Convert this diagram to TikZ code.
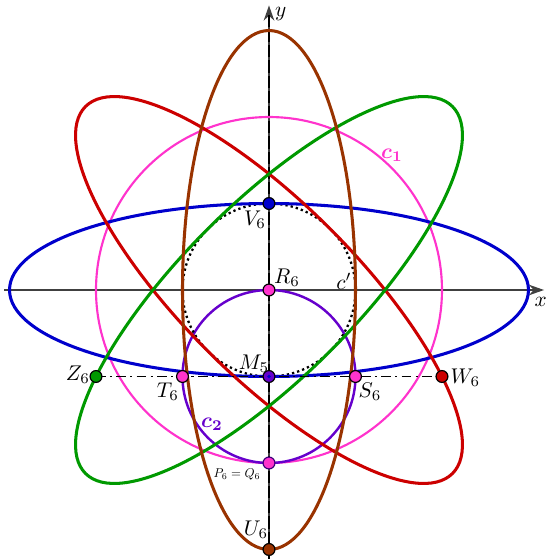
\documentclass[tikz,border=0pt]{standalone}
\usepackage{amsmath}
\usepackage{bm}
\usetikzlibrary{arrows.meta}
\definecolor{cred}{RGB}{204,0,0}
\definecolor{cgreen}{RGB}{0,153,0}
\definecolor{cblue}{RGB}{0,0,204}
\definecolor{cbrown}{RGB}{153,51,0}
\definecolor{cpink}{RGB}{255,51,204}
\definecolor{cpurple}{RGB}{102,0,204}
\definecolor{caxis}{RGB}{64,64,64}
\tikzset{
  ell/.style={line width=1pt},
  axisline/.style={caxis, line width=0.5pt, -{Stealth[length=5pt,width=3.5pt]}},
  pt/.style={circle, draw=black, line width=0.4pt, inner sep=0pt, minimum size=3.9pt},
  lbl/.style={inner sep=0pt, scale=0.7},
}
\begin{document}
\begin{tikzpicture}[x=1cm,y=1cm,font=\fontsize{10}{12}\selectfont]
\useasboundingbox (-3.110,-3.110) rectangle (3.214,3.353);
% axes
\coordinate (xl) at (-3.06,0);
\coordinate (xr) at (3.18,0);
\coordinate (yb) at (0,-3.11);
\coordinate (yt) at (0,3.29);
\draw[axisline] (xl) -- (xr);
\draw[axisline] (yb) -- (yt);
\draw[black, line width=0.7pt, dash pattern=on 4pt off 1pt] (yb) -- (0,3.2);
\node[lbl] (xlab) at (3.14,-0.139) {$x$};
\node[lbl] (ylab) at (0.135,3.19) {$y$};
% circles
\draw[cpink, line width=0.7pt] (0,0) circle [radius=2];
\draw[cpurple, line width=0.8pt] (0,-1) circle [radius=1];
\draw[black, line width=0.75pt, dash pattern=on 0.75pt off 1pt] (0,0) circle [radius=1];
% ellipses
\draw[ell, cblue] (0,0) ellipse [x radius=3, y radius=1];
\draw[ell, cred, rotate=135] (0,0) ellipse [x radius=3, y radius=1];
\draw[ell, cgreen, rotate=45] (0,0) ellipse [x radius=3, y radius=1];
\draw[ell, cbrown] (0,0) ellipse [x radius=1, y radius=3];
% points
\coordinate (pZ) at (-2,-1);
\coordinate (pW) at (2,-1);
\draw[black, line width=0.65pt, dash pattern=on 3.2pt off 1.4pt on 0.7pt off 1.4pt] (pZ) -- (pW);
\node[pt, fill=cblue] (V6) at (0,1) {};
\node[pt, fill=cpink] (R6) at (0,0) {};
\node[pt, fill=cpurple] (M5) at (0,-1) {};
\node[circle, fill=cblue, inner sep=0pt, minimum size=1.2pt] (M5in) at (M5) {};
\node[pt, fill=cpink] (T6) at (-1,-1) {};
\node[pt, fill=cpink] (S6) at (1,-1) {};
\node[pt, fill=cgreen] (Z6) at (pZ) {};
\node[pt, fill=cred] (W6) at (pW) {};
\node[pt, fill=cpink, draw=cpurple!60!black] (P6) at (0,-2) {};
\node[pt, fill=cbrown] (U6) at (0,-3) {};
% labels
\node[lbl] (lV6) at (-0.162,0.81) {$V_6$};
\node[lbl] (lR6) at (0.208,0.139) {$R_6$};
\node[lbl] (lM5) at (-0.173,-0.855) {$M_5$};
\node[lbl] (lT6) at (-1.168,-1.179) {$T_6$};
\node[lbl] (lS6) at (1.168,-1.179) {$S_6$};
\node[lbl] (lZ6) at (-2.21,-0.983) {$Z_6$};
\node[lbl] (lW6) at (2.27,-1.017) {$W_6$};
\node[lbl, scale=0.6] (lP6) at (-0.37,-2.13) {$P_6=Q_6$};
\node[lbl] (lU6) at (-0.150,-2.775) {$U_6$};
\node[lbl, text=cpink] (lc1) at (1.422,1.561) {$\bm{c_1}$};
\node[lbl, text=cpurple] (lc2) at (-0.659,-1.549) {$\bm{c_2}$};
\node[lbl] (lcp) at (0.867,0.104) {$c'$};
\end{tikzpicture}
\end{document}
